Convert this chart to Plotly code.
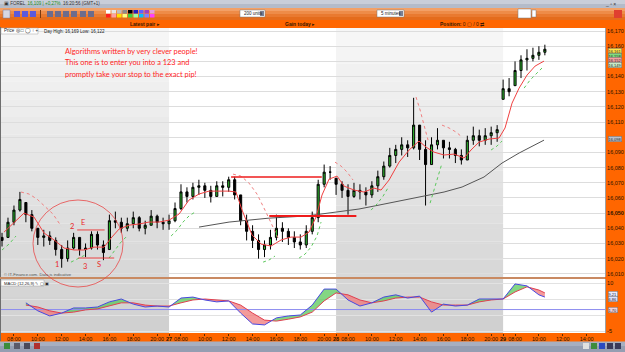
import plotly.graph_objects as go

# ---------------- data (session hours: 0 = 07:00 on day 26, 14 h shown per day) ----------------
bar_hours = [i * 0.5 for i in range(92)]  # 30-minute bars
bar_close = [16.032,16.044,16.052,16.059,16.049,16.040,16.034,16.035,16.032,16.026,
             16.020,16.027,16.034,16.026,16.027,16.036,16.029,16.024,16.045,16.044,
             16.040,16.043,16.047,16.040,16.042,16.048,16.044,16.043,16.045,16.053,
             16.064,16.061,16.067,16.068,16.065,16.061,16.068,16.067,16.072,16.062,
             16.045,16.038,16.032,16.026,16.029,16.034,16.040,16.038,16.034,16.031,
             16.029,16.038,16.047,16.069,16.077,16.077,16.069,16.065,16.061,16.065,
             16.064,16.062,16.068,16.074,16.081,16.088,16.092,16.095,16.093,16.108,
             16.092,16.082,16.095,16.098,16.093,16.092,16.088,16.085,16.098,16.101,
             16.098,16.101,16.103,16.105,16.132,16.130,16.144,16.151,16.152,16.154,
             16.156,16.158]
bar_high = [16.037,16.047,16.055,16.064,16.057,16.052,16.040,16.039,16.038,16.034,
            16.029,16.032,16.037,16.034,16.030,16.038,16.038,16.032,16.049,16.051,
            16.047,16.047,16.051,16.048,16.045,16.052,16.049,16.047,16.049,16.057,
            16.069,16.067,16.070,16.072,16.070,16.068,16.071,16.071,16.074,16.074,
            16.062,16.049,16.042,16.036,16.032,16.039,16.049,16.044,16.040,16.038,
            16.036,16.042,16.051,16.072,16.082,16.081,16.073,16.071,16.069,16.070,
            16.069,16.067,16.071,16.078,16.084,16.093,16.095,16.100,16.098,16.126,
            16.108,16.098,16.100,16.106,16.098,16.097,16.093,16.092,16.101,16.107,
            16.105,16.106,16.107,16.108,16.138,16.139,16.150,16.154,16.158,16.159,
            16.160,16.161]
bar_low = [16.028,16.034,16.042,16.051,16.044,16.038,16.029,16.028,16.029,16.022,
           16.014,16.018,16.026,16.022,16.021,16.026,16.026,16.019,16.026,16.040,
           16.037,16.038,16.040,16.038,16.036,16.042,16.040,16.039,16.039,16.044,
           16.052,16.057,16.059,16.062,16.060,16.057,16.061,16.061,16.064,16.059,
           16.042,16.032,16.027,16.020,16.021,16.026,16.032,16.031,16.029,16.027,
           16.026,16.027,16.036,16.044,16.067,16.072,16.062,16.060,16.049,16.060,
           16.059,16.055,16.060,16.064,16.072,16.080,16.083,16.088,16.087,16.092,
           16.085,16.055,16.082,16.092,16.086,16.086,16.083,16.082,16.085,16.095,
           16.094,16.095,16.095,16.097,16.125,16.127,16.134,16.139,16.144,16.150,
           16.151,16.154]
bar_first_open = 16.034

fast_ma_hours = [0.17,1.01,1.84,2.68,3.52,4.36,5.20,6.04,6.87,7.71,8.55,9.14,9.81,10.65,11.48,
                 12.32,13.16,14.00,14.84,15.67,16.51,17.35,18.19,19.03,19.61,20.12,20.96,21.71,
                 22.55,23.39,24.22,25.06,25.73,26.32,26.82,27.41,28.08,28.67,29.51,30.34,31.18,
                 31.77,32.44,33.28,34.12,34.95,35.54,36.21,37.05,37.89,38.73,39.31,39.98,40.82,
                 41.66,42.16,42.75,43.34,44.01,44.68,45.43]
fast_ma = [16.0375,16.0441,16.0500,16.0474,16.0369,16.0323,16.0270,16.0257,16.0257,16.0276,
           16.0276,16.0336,16.0395,16.0421,16.0428,16.0441,16.0441,16.0454,16.0494,16.0586,
           16.0626,16.0645,16.0645,16.0645,16.0639,16.0520,16.0355,16.0296,16.0283,16.0323,
           16.0342,16.0342,16.0375,16.0474,16.0619,16.0724,16.0744,16.0678,16.0652,16.0639,
           16.0665,16.0652,16.0718,16.0836,16.0916,16.0975,16.0935,16.0902,16.0883,16.0889,
           16.0863,16.0916,16.0968,16.0988,16.0995,16.1061,16.1225,16.1324,16.1410,16.1469,
           16.1502]

slow_ma_hours = [16.51,19.03,22.38,25.48,28.00,29.92,31.60,33.28,35.21,37.05,38.56,40.40,41.91,43.34,45.43]
slow_ma = [16.0408,16.0441,16.0467,16.0481,16.0507,16.0527,16.0553,16.0579,16.0606,16.0639,
           16.0672,16.0738,16.0830,16.0896,16.0981]

sar_up_hours = [0.0,0.59,1.17,None,5.78,6.45,7.12,None,8.97,9.47,9.97,10.48,None,
                14.17,14.67,15.17,15.67,16.18,None,21.88,22.38,22.88,None,
                24.9,25.4,25.9,26.4,26.74,None,30.93,31.43,31.94,32.44,None,
                35.88,36.21,36.55,36.88,None,40.99,41.49,41.91,None,43.76,44.26,44.76,45.26]
sar_up = [16.0257,16.0296,16.0349,None,16.0177,16.0204,16.0230,None,16.0204,16.0257,16.0309,16.0349,None,
          16.0349,16.0388,16.0441,16.0481,16.0507,None,16.0177,16.0191,16.0217,None,
          16.0204,16.0230,16.0276,16.0349,16.0441,None,16.0520,16.0560,16.0612,16.0678,None,
          16.0566,16.0652,16.0744,16.0830,None,16.0916,16.0942,16.0975,None,16.1324,16.1377,16.1417,16.1456]
sar_down_hours = [1.59,2.26,2.93,3.60,4.27,4.95,None,19.36,20.03,20.70,21.37,22.04,22.72,23.22,None,
                  27.91,28.42,28.92,29.42,None,34.7,35.04,35.37,35.71,None,36.88,37.47,38.06,38.56]
sar_down = [16.0639,16.0626,16.0593,16.0546,16.0494,16.0415,None,
            16.0757,16.0744,16.0698,16.0626,16.0520,16.0402,16.0323,None,
            16.0836,16.0810,16.0771,16.0718,None,16.1265,16.1180,16.1080,16.0981,None,
            16.1080,16.1061,16.1034,16.1001]

macd_hours = [2,3,4,5,6,7,8,9,10,11,12,13,14,15,16,17,18,19,20,21,22,23,24,25,26,27,28,29,30,
              31,32,33,34,35,36,37,38,39,40,41,42,43,44,45,45.5]
macd_line = [3.8,1.3,-0.3,0.6,2.2,2.2,2.5,4.1,5.0,3.4,2.5,2.8,2.5,5.3,5.6,4.7,4.1,4.4,0.6,-2.8,
             -3.1,-0.9,-0.3,0.0,3.1,8.1,8.1,4.7,2.8,3.8,5.6,6.3,5.3,5.9,0.9,3.4,2.8,3.1,5.0,5.0,
             5.0,9.7,9.1,6.3,5.6]
macd_signal = [3.1,2.5,1.3,0.6,0.9,1.6,1.9,2.8,3.8,3.8,3.1,2.8,2.8,3.8,4.7,5.0,4.7,4.4,3.1,0.6,
               -1.6,-1.9,-1.3,-0.6,0.9,4.4,6.9,6.3,4.7,3.8,4.4,5.3,5.6,5.6,4.1,3.1,3.1,3.1,4.1,4.7,
               5.0,7.2,8.8,7.8,6.9]
macd_base = 1.7

# user-drawn levels: (start hour, end hour, price)
level_lines = [(19.2, 26.8, 16.0738), (22.4, 29.7, 16.0481), (6.3, 8.6, 16.0389), (6.4, 9.4, 16.0204)]
level_widths = [1.3, 1.8, 0.8, 0.8]
pattern_labels = ['1', '2', 'E', '3', 'S']
pattern_hours = [4.6, 5.87, 6.79, 6.96, 8.13]
pattern_prices = [16.0162, 16.0415, 16.0435, 16.0151, 16.0164]

price_ticks = [16.01,16.02,16.03,16.04,16.05,16.06,16.07,16.08,16.09,16.10,16.11,16.12,16.13,16.14,16.15,16.16,16.17]
hidden_price_labels = [16.10, 16.15]   # covered by value boxes on the axis
time_ticks = [1,3,5,7,9,11,13,14,15,17,19,21,23,25,27,28,29,31,33,35,37,39,41,42,43,45,47,49]
time_labels = ['08:00','10:00','12:00','14:00','16:00','18:00','20:00','<b>27</b>',
               '08:00','10:00','12:00','14:00','16:00','18:00','20:00','<b>28</b>',
               '08:00','10:00','12:00','14:00','16:00','18:00','20:00','<b>29</b>',
               '08:00','10:00','12:00','14:00']
day_shade = [(-1, 14), (28, 42)]

# ---------------- helpers (pixel -> paper for the window chrome) ----------------
W, H = 625, 352
def px(x):
    return x / W
def py(y):
    return 1 - y / H

bar_open = []
prev = bar_first_open
for c, hi, lo in zip(bar_close, bar_high, bar_low):
    bar_open.append(min(max(prev, lo), hi))
    prev = c

fig = go.Figure()

# day shading with a vertical gradient (grey days)
def grey_at(ypix):
    t = (ypix - 28) / (333 - 28)
    v = int(round(247 - 40 * t))
    return f'rgb({v},{v},{v})'

for x0, x1 in day_shade:
    for k in range(14):
        a = 28 + k * (277 - 28) / 14
        b = 28 + (k + 1) * (277 - 28) / 14
        fig.add_shape(type='rect', xref='x', yref='y domain', x0=x0, x1=x1,
                      y0=(277 - b) / (277 - 28), y1=(277 - a) / (277 - 28),
                      fillcolor=grey_at((a + b) / 2), line_width=0, layer='below')
    for k in range(3):
        a = 279 + k * 18
        b = a + 18
        fig.add_shape(type='rect', xref='x', yref='y2 domain', x0=x0, x1=x1,
                      y0=(333 - b) / 54, y1=(333 - a) / 54,
                      fillcolor=grey_at((a + b) / 2), line_width=0, layer='below')

# slow MA
fig.add_trace(go.Scatter(x=slow_ma_hours, y=slow_ma, mode='lines',
                         line=dict(color='#555555', width=1), xaxis='x', yaxis='y'))
# SAR dots
fig.add_trace(go.Scatter(x=sar_up_hours, y=sar_up, mode='lines',
                         line=dict(color='#5CC85C', width=1, dash='dot'), xaxis='x', yaxis='y'))
fig.add_trace(go.Scatter(x=sar_down_hours, y=sar_down, mode='lines',
                         line=dict(color='#F08080', width=1, dash='dot'), xaxis='x', yaxis='y'))
# candles
fig.add_trace(go.Candlestick(x=bar_hours, open=bar_open, high=bar_high, low=bar_low, close=bar_close,
                             increasing=dict(line=dict(color='#000000', width=1), fillcolor='#2DB52D'),
                             decreasing=dict(line=dict(color='#000000', width=1), fillcolor='#000000'),
                             whiskerwidth=0, xaxis='x', yaxis='y'))
# fast MA
fig.add_trace(go.Scatter(x=fast_ma_hours, y=fast_ma, mode='lines',
                         line=dict(color='#F04040', width=1), xaxis='x', yaxis='y'))
# drawn levels
for (h0, h1, p), w in zip(level_lines, level_widths):
    fig.add_trace(go.Scatter(x=[h0, h1], y=[p, p], mode='lines',
                             line=dict(color='#EE1C1C', width=w), xaxis='x', yaxis='y'))

# MACD fills between line and signal
pos_x, pos_y, neg_x, neg_y = [], [], [], []
for i in range(len(macd_hours) - 1):
    x0, x1 = macd_hours[i], macd_hours[i + 1]
    a0, a1 = macd_line[i], macd_line[i + 1]
    b0, b1 = macd_signal[i], macd_signal[i + 1]
    d0, d1 = a0 - b0, a1 - b1
    if d0 * d1 < 0:
        t = d0 / (d0 - d1)
        xc = x0 + t * (x1 - x0)
        yc = a0 + t * (a1 - a0)
        segs = [(x0, a0, b0, xc, yc, yc, d0), (xc, yc, yc, x1, a1, b1, d1)]
    else:
        segs = [(x0, a0, b0, x1, a1, b1, d0 if d0 != 0 else d1)]
    for xa, ya, yb, xb, yc2, yd, d in segs:
        xs = [xa, xb, xb, xa, xa, None]
        ys = [ya, yc2, yd, yb, ya, None]
        if d >= 0:
            pos_x += xs; pos_y += ys
        else:
            neg_x += xs; neg_y += ys
fig.add_trace(go.Scatter(x=pos_x, y=pos_y, mode='lines', fill='toself', fillcolor='rgba(90,200,90,0.75)',
                         line=dict(width=0), xaxis='x', yaxis='y2'))
fig.add_trace(go.Scatter(x=neg_x, y=neg_y, mode='lines', fill='toself', fillcolor='rgba(240,120,120,0.75)',
                         line=dict(width=0), xaxis='x', yaxis='y2'))
fig.add_trace(go.Scatter(x=[-1, 51], y=[macd_base, macd_base], mode='lines',
                         line=dict(color='#8C8CF0', width=1), xaxis='x', yaxis='y2'))
fig.add_trace(go.Scatter(x=macd_hours, y=macd_signal, mode='lines',
                         line=dict(color='#E04050', width=1), xaxis='x', yaxis='y2'))
fig.add_trace(go.Scatter(x=macd_hours, y=macd_line, mode='lines',
                         line=dict(color='#4848E0', width=1), xaxis='x', yaxis='y2'))

# ---------------- axes ----------------
def price_label(v):
    if any(abs(v - h) < 1e-9 for h in hidden_price_labels):
        return ''
    s = ('%.3f' % v).replace('.', ',')
    return '<b>%s</b>' % s if abs(v - 16.05) < 1e-9 else s
price_text = [price_label(v) for v in price_ticks]
axfont = dict(family='Liberation Sans', size=5.5, color='#2A1400')
fig.update_layout(
    width=W, height=H, margin=dict(l=0, r=0, t=0, b=0),
    paper_bgcolor='#FF6600', plot_bgcolor='#FFFFFF', showlegend=False, boxgap=0.5,
    xaxis=dict(domain=[0, 605 / W], range=[-0.17, 50.54], anchor='y2', tickvals=time_ticks,
               ticktext=time_labels, showgrid=False, zeroline=False, ticks='outside', ticklen=2,
               ticklabelstandoff=-2, tickangle=0,
               tickcolor='#5A2A00', tickfont=axfont, rangeslider=dict(visible=False), fixedrange=True),
    yaxis=dict(domain=[1 - 277 / H, 1 - 28 / H], range=[16.0079, 16.1720], side='right', anchor='x',
               tickvals=price_ticks, ticktext=price_text, showgrid=True, gridcolor='#DDDDDD', gridwidth=1,
               zeroline=False, ticks='', tickfont=axfont, showline=True, linecolor='#A0A0A0'),
    yaxis2=dict(domain=[1 - 333 / H, 1 - 279 / H], range=[-5.625, 11.25], side='right', anchor='x',
                tickvals=[-5, 0, 5, 10], ticktext=['-5', '', '', '10'], showgrid=True, gridcolor='#E2E2E2',
                zeroline=False, ticks='', tickfont=axfont, showline=True, linecolor='#A0A0A0'),
)

shapes = []
def rect(x0, y0, x1, y1, fill, line=None, lw=0, layer='below'):
    shapes.append(dict(type='rect', xref='paper', yref='paper', x0=px(x0), x1=px(x1), y0=py(y1), y1=py(y0),
                       fillcolor=fill, line=dict(width=lw, color=line or fill), layer=layer))

# window chrome
rect(0, 0, 625, 4, '#C9CED9')
rect(0, 4, 625, 8, '#B4BBC9')
tool_cols = ['#F3A066', '#EE8C48', '#E97A30', '#E46C1C']
for k, c in enumerate(tool_cols):
    rect(0, 8 + 3 * k, 625, 11 + 3 * k, c)
rect(0, 20, 625, 27, '#FF6600')
rect(0, 341.5, 625, 346, '#A7AFC0')
rect(0, 346, 625, 352, '#959EB2')
rect(0, 27, 1, 341, '#6E6E6E', layer='above')
# separator between panels
rect(0, 277, 605, 279, '#C98A62', layer='above')
# toolbar icons
rect(3, 10, 10, 18, '#D7D7E4', '#7A7A9A', 0.5)
for xi in [14, 22, 30, 47, 55, 63, 71, 80, 88]:
    rect(xi, 11, xi + 6, 17, '#5A5ADC' if xi < 40 else '#6C6C8C')
rect(40, 10, 41, 18, '#7A3A10')
row1 = ['#FFFFFF', '#E6E6E6', '#BEBEBE', '#8C8C8C', '#000000', '#2020C0', '#6060FF', '#A040C0', '#E0A0E0']
row2 = ['#FF2020', '#FFA0A0', '#FFE000', '#FFFF80', '#40D040', '#A0FFA0', '#00C0FF', '#8080FF', '#FF40FF']
for k in range(9):
    rect(106 + 5.5 * k, 10, 110.5 + 5.5 * k, 13.5, row1[k])
    rect(106 + 5.5 * k, 14, 110.5 + 5.5 * k, 17.5, row2[k])
rect(240, 10, 265, 17, '#FFFFFF', '#7A7A7A', 0.5)
rect(260, 11, 264, 16, '#7A8094')
rect(377, 10, 404, 17, '#FFFFFF', '#7A7A7A', 0.5)
rect(399, 11, 403, 16, '#7A8094')
rect(518, 9, 531, 18, '#FFFFFF', '#7A7A7A', 0.5)
rect(532, 10, 536, 17, '#FFFFFF', '#7A7A7A', 0.5)
rect(614, 10, 622, 18, '#E04030')
# price tool box
rect(1, 28, 38, 34, '#FFFFFF', '#A0A0A0', 0.5, 'above')
rect(1, 280, 44, 286, '#FFFFFF', '#A0A0A0', 0.5, 'above')
# bottom bar icons
for k, c in enumerate(['#3C8C3C', '#5A5A6A', '#4A4A5A', '#B03030']):
    rect(4 + 10 * k, 343, 10 + 10 * k, 349, c)
for k, c in enumerate(['#E0E0E0', '#3C8C3C', '#2A4AC0', '#3A3A5A', '#3A3A5A']):
    rect(583 + 8 * k, 343, 589 + 8 * k, 349, c)
# 123 circle
shapes.append(dict(type='circle', xref='paper', yref='paper', x0=px(33), x1=px(123), y0=py(287), y1=py(200),
                   line=dict(color='#E84848', width=0.8), layer='above'))
fig.update_layout(shapes=list(fig.layout.shapes) + shapes)

ann = []
def text(x, y, s, size=5, color='#2A2A2A', anchor='left', family='Liberation Sans', bg=None, border=None):
    d = dict(xref='paper', yref='paper', x=px(x), y=py(y), text=s, showarrow=False, xanchor=anchor,
             yanchor='middle', font=dict(family=family, size=size, color=color))
    if bg:
        d.update(bgcolor=bg, bordercolor=border or bg, borderwidth=0.5, borderpad=0)
    ann.append(d)

text(2, 4, '▣ FOREL  <span style="color:#1C8C1C">16,109 | +0,27%</span>  16:20:56 (GMT+1)', 4.5, '#333333')
text(145, 23.5, '<b>Latest pair</b> ▸', 5, '#3A1800', 'center')
text(300, 23.5, '<b>Gain today</b> ▸', 5, '#3A1800', 'center')
text(462, 23.5, '<b>Position:</b> 0 ▢ / 0 ⇄', 5, '#3A1800', 'center')
text(242, 13.5, '200 units', 4.5, '#222222')
text(379, 13.5, '5 minutes', 4.5, '#222222')
text(603, 4, '_ ▫ ×', 5, '#333333')
text(2, 31, 'Price ◎ □ ◯ ↑ +', 4.5, '#222222')
text(42, 31, 'Day High: 16,169 Low: 16,122', 4.5, '#222222')
text(2, 274.5, '© IT-Finance.com. Data is indicative', 4.2, '#555555')
text(2, 283, 'MACD (12,26,9) ✎ ▢ ▣', 4.2, '#222222')
# red commentary
for yy, s in [(52, 'Algorithms written by very clever people!'),
              (63, 'This one is to enter you into a 123 and'),
              (74, 'promptly take your stop to the exact pip!')]:
    text(63, yy, s, 7.4, '#FF1E1E', 'left', 'Lato')
# right-axis value boxes
for yy, s, bg in [(51, '16,161', '#FFE24A'), (55.5, '16,158', '#7FDC7F'), (60, '16,152', '#F4A0A0'),
                  (64.5, '16,149', '#C7EAC7'), (138.5, '16,098', '#B9C0CE'),
                  (294, '9,21', '#E6EAFF'), (298.5, '6,86', '#DDE2FF'), (310, '1,70', '#F2D0D8')]:
    text(608, yy, s, 4, '#202020', 'left', 'Liberation Sans', bg, '#707070')

for lab, h, p in zip(pattern_labels, pattern_hours, pattern_prices):
    ann.append(dict(xref='x', yref='y', x=h, y=p, text=lab, showarrow=False,
                    font=dict(family='Lato', size=7.5, color='#E82828')))
fig.update_layout(annotations=ann)

fig.write_html("out.html")
